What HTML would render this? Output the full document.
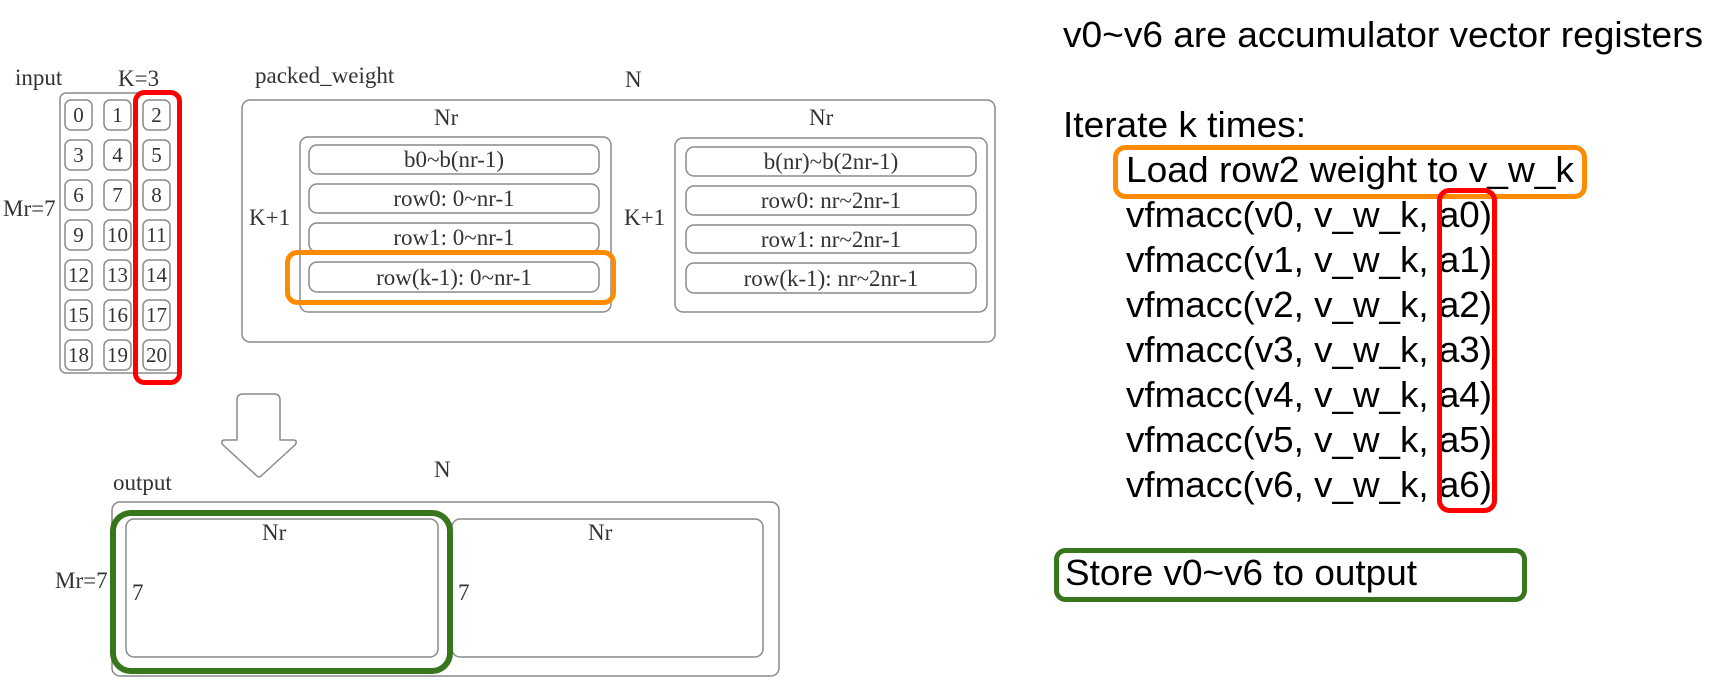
<!DOCTYPE html>
<html>
<head>
<meta charset="utf-8">
<style>
  html, body { margin: 0; padding: 0; background: #ffffff; }
  svg { display: block; }
  .ser { font-family: "Liberation Serif", "DejaVu Serif", serif; fill: #333; font-size: 23px; }
  .cell { font-family: "Liberation Serif", "DejaVu Serif", serif; fill: #333; font-size: 21px; }
  .san { font-family: "Liberation Sans", "DejaVu Sans", sans-serif; fill: #000; font-size: 36px; }
  .box { fill: none; stroke: #8a8a8a; stroke-width: 1.5; }
</style>
</head>
<body>
<svg width="1709" height="688" viewBox="0 0 1709 688" xmlns="http://www.w3.org/2000/svg">
  <rect x="0" y="0" width="1709" height="688" fill="#ffffff"/>

  <!-- ===== INPUT ===== -->
  <text class="ser" x="15" y="85">input</text>
  <text class="ser" x="118" y="86">K=3</text>
  <text class="ser" x="3" y="216">Mr=7</text>
  <rect class="box" x="60" y="93" width="121" height="280" rx="6"/>

  <g>
    <!-- cells: columns at 65,104,143 ; rows at 100 + 40i -->
    <rect class="box" x="65" y="100" width="27" height="30" rx="6"/>
    <rect class="box" x="104" y="100" width="27" height="30" rx="6"/>
    <rect class="box" x="143" y="100" width="27" height="30" rx="6"/>
    <rect class="box" x="65" y="140" width="27" height="30" rx="6"/>
    <rect class="box" x="104" y="140" width="27" height="30" rx="6"/>
    <rect class="box" x="143" y="140" width="27" height="30" rx="6"/>
    <rect class="box" x="65" y="180" width="27" height="30" rx="6"/>
    <rect class="box" x="104" y="180" width="27" height="30" rx="6"/>
    <rect class="box" x="143" y="180" width="27" height="30" rx="6"/>
    <rect class="box" x="65" y="220" width="27" height="30" rx="6"/>
    <rect class="box" x="104" y="220" width="27" height="30" rx="6"/>
    <rect class="box" x="143" y="220" width="27" height="30" rx="6"/>
    <rect class="box" x="65" y="260" width="27" height="30" rx="6"/>
    <rect class="box" x="104" y="260" width="27" height="30" rx="6"/>
    <rect class="box" x="143" y="260" width="27" height="30" rx="6"/>
    <rect class="box" x="65" y="300" width="27" height="30" rx="6"/>
    <rect class="box" x="104" y="300" width="27" height="30" rx="6"/>
    <rect class="box" x="143" y="300" width="27" height="30" rx="6"/>
    <rect class="box" x="65" y="340" width="27" height="30" rx="6"/>
    <rect class="box" x="104" y="340" width="27" height="30" rx="6"/>
    <rect class="box" x="143" y="340" width="27" height="30" rx="6"/>
  </g>
  <g text-anchor="middle">
    <text class="cell" x="78.5" y="122">0</text>
    <text class="cell" x="117.5" y="122">1</text>
    <text class="cell" x="156.5" y="122">2</text>
    <text class="cell" x="78.5" y="162">3</text>
    <text class="cell" x="117.5" y="162">4</text>
    <text class="cell" x="156.5" y="162">5</text>
    <text class="cell" x="78.5" y="202">6</text>
    <text class="cell" x="117.5" y="202">7</text>
    <text class="cell" x="156.5" y="202">8</text>
    <text class="cell" x="78.5" y="242">9</text>
    <text class="cell" x="117.5" y="242">10</text>
    <text class="cell" x="156.5" y="242">11</text>
    <text class="cell" x="78.5" y="282">12</text>
    <text class="cell" x="117.5" y="282">13</text>
    <text class="cell" x="156.5" y="282">14</text>
    <text class="cell" x="78.5" y="322">15</text>
    <text class="cell" x="117.5" y="322">16</text>
    <text class="cell" x="156.5" y="322">17</text>
    <text class="cell" x="78.5" y="362">18</text>
    <text class="cell" x="117.5" y="362">19</text>
    <text class="cell" x="156.5" y="362">20</text>
  </g>
  <!-- red highlight column -->
  <rect x="135.5" y="92.5" width="44" height="290" rx="9" fill="none" stroke="#ff0000" stroke-width="5"/>

  <!-- ===== PACKED WEIGHT ===== -->
  <text class="ser" x="255" y="83">packed_weight</text>
  <text class="ser" x="625" y="87">N</text>
  <rect class="box" x="242" y="100" width="753" height="242" rx="8"/>

  <text class="ser" x="434" y="125">Nr</text>
  <text class="ser" x="809" y="125">Nr</text>
  <text class="ser" x="249" y="225">K+1</text>
  <text class="ser" x="624" y="225">K+1</text>

  <rect class="box" x="300" y="137" width="311" height="175" rx="8"/>
  <rect class="box" x="309" y="145" width="290" height="29" rx="8"/>
  <rect class="box" x="309" y="184" width="290" height="29" rx="8"/>
  <rect class="box" x="309" y="223" width="290" height="29" rx="8"/>
  <rect class="box" x="309" y="262" width="290" height="30" rx="8"/>
  <g text-anchor="middle">
    <text class="ser" x="454" y="167">b0~b(nr-1)</text>
    <text class="ser" x="454" y="206">row0: 0~nr-1</text>
    <text class="ser" x="454" y="245">row1: 0~nr-1</text>
    <text class="ser" x="454" y="285">row(k-1): 0~nr-1</text>
  </g>

  <rect class="box" x="675" y="138" width="312" height="174" rx="8"/>
  <rect class="box" x="686" y="147" width="290" height="29" rx="8"/>
  <rect class="box" x="686" y="186" width="290" height="29" rx="8"/>
  <rect class="box" x="686" y="225" width="290" height="28" rx="8"/>
  <rect class="box" x="686" y="263" width="290" height="30" rx="8"/>
  <g text-anchor="middle">
    <text class="ser" x="831" y="169">b(nr)~b(2nr-1)</text>
    <text class="ser" x="831" y="208">row0: nr~2nr-1</text>
    <text class="ser" x="831" y="247">row1: nr~2nr-1</text>
    <text class="ser" x="831" y="286">row(k-1): nr~2nr-1</text>
  </g>

  <!-- orange highlight -->
  <rect x="287.5" y="252.5" width="326" height="50" rx="10" fill="none" stroke="#ff8c00" stroke-width="5"/>

  <!-- ===== DOWN ARROW ===== -->
  <path d="M237,400 Q237,394 243,394 L274,394 Q280,394 280,400 L280,440 L294,440 Q298,441 295,445 L261,476 Q259,478 257,476 L223,445 Q220,441 224,440 L237,440 Z"
        fill="#ffffff" stroke="#8a8a8a" stroke-width="1.5" stroke-linejoin="round"/>

  <!-- ===== OUTPUT ===== -->
  <text class="ser" x="113" y="490">output</text>
  <text class="ser" x="434" y="477">N</text>
  <rect class="box" x="112" y="502" width="667" height="174" rx="8"/>
  <rect class="box" x="126" y="519" width="312" height="138" rx="8"/>
  <rect class="box" x="452" y="519" width="311" height="138" rx="8"/>
  <text class="ser" x="262" y="540">Nr</text>
  <text class="ser" x="588" y="540">Nr</text>
  <text class="ser" x="55" y="588">Mr=7</text>
  <text class="ser" x="132" y="600">7</text>
  <text class="ser" x="458" y="600">7</text>
  <!-- green highlight -->
  <rect x="113" y="513" width="337" height="158" rx="18" fill="none" stroke="#38761d" stroke-width="6"/>

  <!-- ===== RIGHT TEXT ===== -->
  <text class="san" x="1063" y="47" textLength="640" lengthAdjust="spacingAndGlyphs">v0~v6 are accumulator vector registers</text>
  <text class="san" x="1063" y="137" textLength="243" lengthAdjust="spacingAndGlyphs">Iterate k times:</text>
  <text class="san" x="1126" y="182" textLength="448" lengthAdjust="spacingAndGlyphs">Load row2 weight to v_w_k</text>
  <text class="san" x="1126" y="227" textLength="366" lengthAdjust="spacingAndGlyphs">vfmacc(v0, v_w_k, a0)</text>
  <text class="san" x="1126" y="272" textLength="366" lengthAdjust="spacingAndGlyphs">vfmacc(v1, v_w_k, a1)</text>
  <text class="san" x="1126" y="317" textLength="366" lengthAdjust="spacingAndGlyphs">vfmacc(v2, v_w_k, a2)</text>
  <text class="san" x="1126" y="362" textLength="366" lengthAdjust="spacingAndGlyphs">vfmacc(v3, v_w_k, a3)</text>
  <text class="san" x="1126" y="407" textLength="366" lengthAdjust="spacingAndGlyphs">vfmacc(v4, v_w_k, a4)</text>
  <text class="san" x="1126" y="452" textLength="366" lengthAdjust="spacingAndGlyphs">vfmacc(v5, v_w_k, a5)</text>
  <text class="san" x="1126" y="497" textLength="366" lengthAdjust="spacingAndGlyphs">vfmacc(v6, v_w_k, a6)</text>
  <text class="san" x="1065" y="585" textLength="352" lengthAdjust="spacingAndGlyphs">Store v0~v6 to output</text>

  <!-- orange box around Load line -->
  <rect x="1115.5" y="147.5" width="469" height="49" rx="10" fill="none" stroke="#ff8c00" stroke-width="5"/>
  <!-- red box around a0..a6 -->
  <rect x="1439.5" y="190.5" width="55" height="320" rx="10" fill="none" stroke="#ff0000" stroke-width="5"/>
  <!-- green box around Store line -->
  <rect x="1056.5" y="550.5" width="468" height="49" rx="9" fill="none" stroke="#38761d" stroke-width="5"/>
</svg>
</body>
</html>
